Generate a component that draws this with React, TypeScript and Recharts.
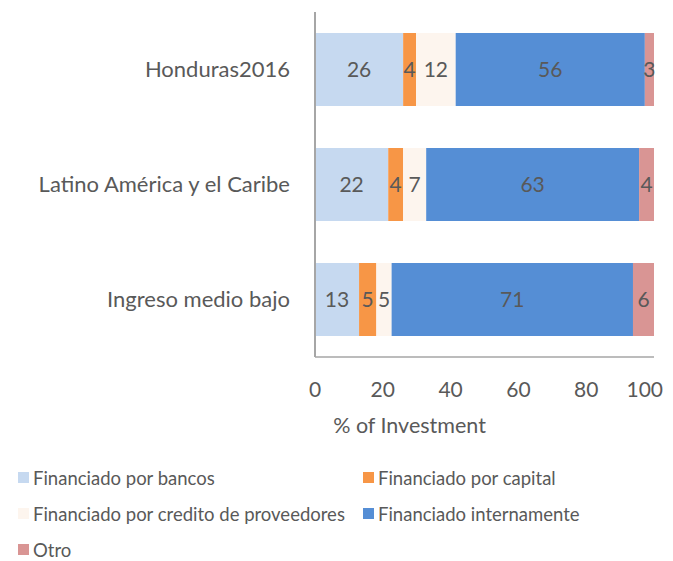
import { Bar, BarChart, LabelList, Label, XAxis, YAxis } from "recharts";

// categories top to bottom
const regions = ["Honduras2016", "Latino América y el Caribe", "Ingreso medio bajo"];

// share of investment by source (%)
const bancos = [26.0, 21.6, 13.0];
const capital = [3.8, 4.4, 5.1];
const credito = [11.7, 6.8, 4.5];
const interno = [55.8, 62.8, 71.2];
const otro = [2.7, 4.4, 6.2];

const xTicks = [0, 20, 40, 60, 80, 100];

const series = [
  { key: "bancos", name: "Financiado por bancos", color: "#C6D9F0", values: bancos },
  { key: "capital", name: "Financiado por capital", color: "#F79646", values: capital },
  { key: "credito", name: "Financiado por credito de proveedores", color: "#FDF5EE", values: credito },
  { key: "interno", name: "Financiado internamente", color: "#558ED5", values: interno },
  { key: "otro", name: "Otro", color: "#D99594", values: otro },
];

const data = regions.map((region, i) => {
  const row: Record<string, string | number> = { region };
  series.forEach((s) => {
    row[s.key] = s.values[i];
  });
  return row;
});

const FONT = "Lato, 'Open Sans', sans-serif";
const TEXT = "#595959";

// x tick; the last one is pulled in so it doesn't run off the right edge
function XTick({ x, y, payload }: any) {
  const last = payload.value === xTicks[xTicks.length - 1];
  return (
    <text
      x={last ? x + 10 : x}
      y={y}
      dy="0.71em"
      textAnchor={last ? "end" : "middle"}
      fill={TEXT}
      fontSize={21}
      fontFamily={FONT}
    >
      {payload.value}
    </text>
  );
}

export default function App() {
  return (
    <div style={{ width: 657, fontFamily: FONT }}>
      <style>{"body{overflow:hidden}"}</style>
      <BarChart
        width={657}
        height={440}
        data={data}
        layout="vertical"
        margin={{ top: 4, right: 11, bottom: 21, left: 0 }}
      >
        <XAxis
          type="number"
          domain={[0, 100]}
          ticks={xTicks}
          axisLine={{ stroke: "#A6A6A6", strokeWidth: 1.5 }}
          tickLine={false}
          tickSize={0}
          tickMargin={25}
          height={70}
          tick={<XTick />}
        >
          <Label
            value="% of Investment"
            position="center"
            dx={-75}
            dy={33}
            style={{ fill: TEXT, fontSize: 21.5, fontFamily: FONT }}
          />
        </XAxis>
        <YAxis
          type="category"
          dataKey="region"
          width={307}
          axisLine={{ stroke: "#A6A6A6", strokeWidth: 2 }}
          tickLine={false}
          tickSize={0}
          tickMargin={25}
          tick={{ fill: TEXT, fontSize: 22, fontFamily: FONT }}
        />
        {series.map((s) => (
          <Bar
            key={s.key}
            dataKey={s.key}
            name={s.name}
            stackId="a"
            fill={s.color}
            barSize={73}
            isAnimationActive={false}
          >
            <LabelList
              dataKey={s.key}
              position="center"
              formatter={(v: number) => Math.round(v)}
              style={{ fill: TEXT, fontSize: 21, fontFamily: FONT }}
            />
          </Bar>
        ))}
      </BarChart>
      <div
        style={{
          display: "grid",
          gridTemplateColumns: "345px 300px",
          rowGap: 17,
          marginTop: 20,
          marginLeft: 10,
          fontSize: 18.5,
          color: TEXT,
        }}
      >
        {series.map((s) => (
          <div key={s.key} style={{ display: "flex", alignItems: "center", height: 19 }}>
            <span
              style={{ width: 11, height: 11, background: s.color, marginRight: 4, display: "inline-block", flexShrink: 0 }}
            />
            <span style={{ whiteSpace: "nowrap" }}>{s.name}</span>
          </div>
        ))}
      </div>
    </div>
  );
}
